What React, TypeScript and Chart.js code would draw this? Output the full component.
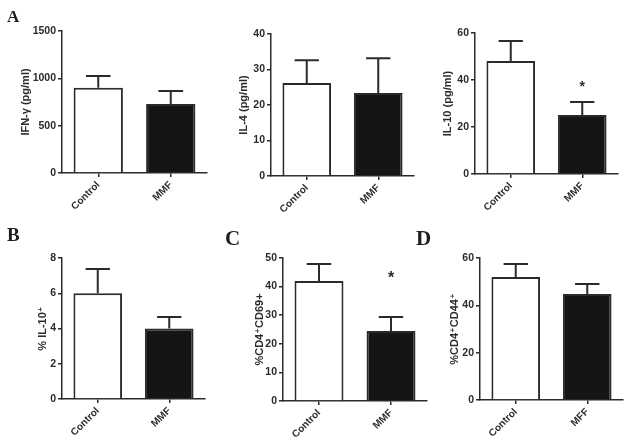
import React, { useEffect, useRef } from "react";
import { Chart, registerables } from "chart.js";
Chart.register(...registerables);

// ---- data ----
const groupsMMF = ["Control", "MMF"];
const groupsMFF = ["Control", "MFF"];

const ifnMeans = [900, 729];
const ifnErrors = [125, 137];
const il4Means = [26.2, 23.4];
const il4Errors = [6.4, 9.8];
const il10Means = [48.1, 25.1];
const il10Errors = [8.5, 5.5];
const il10Stars = [null, 35.4];
const pctIl10Means = [6.0, 4.0];
const pctIl10Errors = [1.37, 0.65];
const cd69Means = [42.0, 24.5];
const cd69Errors = [5.9, 4.9];
const cd69Stars = [null, 41.4];
const cd44Means = [52.0, 44.8];
const cd44Errors = [5.5, 4.2];

const ifnTicks = { max: 1500, step: 500 };
const il4Ticks = { max: 40, step: 10 };
const il10Ticks = { max: 60, step: 20 };
const pctTicks = { max: 8, step: 2 };
const cd69Ticks = { max: 50, step: 10 };
const cd44Ticks = { max: 60, step: 20 };

const titles = [
  "IFN-\u03b3 (pg/ml)",
  "IL-4 (pg/ml)",
  "IL-10 (pg/ml)",
  "% IL-10\u207a",
  "%CD4\u207aCD69+",
  "%CD4\u207aCD44\u207a",
];

// ---- layout ----
const SANS = "'Liberation Sans', Arial, Helvetica, 'DejaVu Sans', sans-serif";
const INK = "#2b2b2b";

type Panel = {
  labels: string[];
  means: number[];
  errors: number[];
  stars?: (number | null)[];
  ticks: { max: number; step: number };
  title: string;
  box: { x: number; y: number; w: number; h: number };
  area: { l: number; t: number; r: number; b: number };
  titleCenter: number;
  starSize?: number;
};

const panels: Panel[] = [
  { labels: groupsMMF, means: ifnMeans, errors: ifnErrors, ticks: ifnTicks, title: titles[0],
    box: { x: 0, y: 0, w: 210, h: 225 }, area: { l: 62, t: 31, r: 207, b: 173 }, titleCenter: 25.5 },
  { labels: groupsMMF, means: il4Means, errors: il4Errors, ticks: il4Ticks, title: titles[1],
    box: { x: 210, y: 0, w: 205, h: 225 }, area: { l: 271, t: 34, r: 414, b: 176 }, titleCenter: 244 },
  { labels: groupsMMF, means: il10Means, errors: il10Errors, stars: il10Stars, ticks: il10Ticks, title: titles[2],
    box: { x: 415, y: 0, w: 214, h: 225 }, area: { l: 475, t: 33, r: 618, b: 174 }, titleCenter: 448, starSize: 14 },
  { labels: groupsMMF, means: pctIl10Means, errors: pctIl10Errors, ticks: pctTicks, title: titles[3],
    box: { x: 0, y: 225, w: 210, h: 220 }, area: { l: 62, t: 258, r: 205, b: 399 }, titleCenter: 43 },
  { labels: groupsMMF, means: cd69Means, errors: cd69Errors, stars: cd69Stars, ticks: cd69Ticks, title: titles[4],
    box: { x: 210, y: 225, w: 220, h: 220 }, area: { l: 283, t: 258, r: 427, b: 401 }, titleCenter: 260, starSize: 16 },
  { labels: groupsMFF, means: cd44Means, errors: cd44Errors, ticks: cd44Ticks, title: titles[5],
    box: { x: 415, y: 225, w: 214, h: 220 }, area: { l: 480, t: 258, r: 623, b: 400 }, titleCenter: 455 },
];

const letters = [
  { text: "A", x: 7, y: 8, size: 17 },
  { text: "B", x: 7, y: 225, size: 19 },
  { text: "C", x: 225, y: 228, size: 21 },
  { text: "D", x: 416, y: 228, size: 21 },
];

function BarPanel({ p }: { p: Panel }) {
  const ref = useRef<HTMLCanvasElement>(null);
  useEffect(() => {
    const canvas = ref.current;
    if (!canvas) return;
    const yWidth = p.area.l - p.box.x;
    const xHeight = p.box.y + p.box.h - p.area.b;
    const titleFontSize = 11;
    const titlePad = p.titleCenter - p.box.x - (titleFontSize * 1.2) / 2;

    const errorPlugin = {
      id: "errorBarsAndStars",
      afterDatasetsDraw(chart: any) {
        const ctx = chart.ctx;
        const meta = chart.getDatasetMeta(0);
        const y = chart.scales.y;
        ctx.save();
        ctx.strokeStyle = INK;
        ctx.lineWidth = 2;
        meta.data.forEach((bar: any, i: number) => {
          const base = y.getPixelForValue(p.means[i]);
          const top = y.getPixelForValue(p.means[i] + p.errors[i]);
          const half = bar.width / 4;
          ctx.beginPath();
          ctx.moveTo(bar.x, base);
          ctx.lineTo(bar.x, top);
          ctx.moveTo(bar.x - half, top);
          ctx.lineTo(bar.x + half, top);
          ctx.stroke();
          const s = p.stars ? p.stars[i] : null;
          if (s != null) {
            ctx.fillStyle = INK;
            ctx.font = `bold ${p.starSize || 14}px ${SANS}`;
            ctx.textAlign = "center";
            ctx.textBaseline = "alphabetic";
            ctx.fillText("*", bar.x, y.getPixelForValue(s));
          }
        });
        ctx.restore();
      },
    };

    const chart = new Chart(canvas, {
      type: "bar",
      data: {
        labels: p.labels,
        datasets: [
          {
            data: p.means,
            backgroundColor: ["#ffffff", "#151515"],
            borderColor: INK,
            borderWidth: 2,
            borderSkipped: "start",
            barPercentage: 0.68,
            categoryPercentage: 1,
          },
        ],
      },
      options: {
        responsive: false,
        animation: false,
        devicePixelRatio: 1,
        layout: {
          padding: {
            left: 0,
            top: p.area.t - p.box.y,
            right: p.box.x + p.box.w - p.area.r,
            bottom: 0,
          },
        },
        plugins: {
          legend: { display: false },
          tooltip: { enabled: false },
          title: { display: false },
        },
        scales: {
          x: {
            type: "category",
            offset: true,
            afterFit: (s: any) => {
              s.height = xHeight;
            },
            grid: {
              display: true,
              offset: false,
              drawOnChartArea: false,
              drawTicks: true,
              tickLength: 4,
              color: INK,
              lineWidth: 1.5,
            },
            border: { display: true, color: INK, width: 1.5 },
            ticks: {
              minRotation: 45,
              maxRotation: 45,
              padding: 2,
              color: INK,
              font: { family: SANS, size: 10, weight: "bold" },
            },
          },
          y: {
            min: 0,
            max: p.ticks.max,
            afterFit: (s: any) => {
              s.width = yWidth;
            },
            grid: {
              display: true,
              drawOnChartArea: false,
              drawTicks: true,
              tickLength: 4,
              color: INK,
              lineWidth: 1.5,
            },
            border: { display: true, color: INK, width: 1.5 },
            ticks: {
              stepSize: p.ticks.step,
              padding: 2,
              color: INK,
              font: { family: SANS, size: 10.5, weight: "bold" },
              callback: (v: any) => String(v),
            },
            title: {
              display: true,
              text: p.title,
              color: INK,
              padding: { top: titlePad, bottom: 0 },
              font: { family: SANS, size: titleFontSize, weight: "bold" },
            },
          },
        },
      },
      plugins: [errorPlugin],
    } as any);
    return () => chart.destroy();
  }, [p]);
  return (
    <canvas
      ref={ref}
      width={p.box.w}
      height={p.box.h}
      style={{ position: "absolute", left: p.box.x, top: p.box.y, width: p.box.w, height: p.box.h }}
    />
  );
}

export default function App() {
  return (
    <div style={{ position: "absolute", left: 0, top: 0, width: 629, height: 445, background: "#ffffff", overflow: "hidden" }}>
      {panels.map((p, i) => (
        <BarPanel key={i} p={p} />
      ))}
      {letters.map((l) => (
        <div
          key={l.text}
          style={{
            position: "absolute",
            left: l.x,
            top: l.y,
            fontFamily: "'Liberation Serif', 'Times New Roman', serif",
            fontWeight: "bold",
            fontSize: l.size,
            lineHeight: 1,
            color: "#1e1e1e",
          }}
        >
          {l.text}
        </div>
      ))}
    </div>
  );
}
